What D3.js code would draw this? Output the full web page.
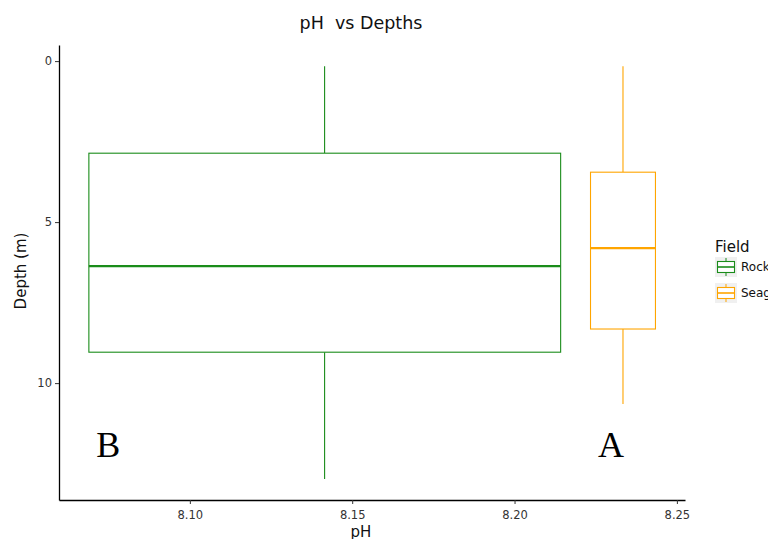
<!DOCTYPE html>
<html>
<head>
<meta charset="utf-8">
<script src="https://cdn.jsdelivr.net/npm/d3@7"></script>
<style>
  html, body { margin: 0; padding: 0; background: #fff; overflow: hidden; }
  svg { display: block; font-family: "DejaVu Sans", sans-serif; }
  .letter { font-family: "Liberation Serif", "DejaVu Serif", serif; }
</style>
</head>
<body>
<svg id="chart" width="768" height="539"></svg>
<script>
// Box statistics per field (depth in metres, positioned along pH)
const fields    = ["Rocky Reef", "Seagrass"];
const colors    = ["#1a8c1a", "#ffa500"];
const phLeft    = [8.0689, 8.2234];
const phRight   = [8.2142, 8.2434];
const phCenter  = [8.1415, 8.2334];
const whiskLow  = [0.16, 0.16];
const q1        = [2.86, 3.45];
const medians   = [6.37, 5.81];
const q3        = [9.04, 8.32];
const whiskHigh = [12.98, 10.65];
const letters   = ["B", "A"];
const letterPH  = [8.0749, 8.2297];
const letterDepth = 12.3;

const xTicks = [8.10, 8.15, 8.20, 8.25];
const yTicks = [0, 5, 10];

const svg = d3.select("#chart");
const plot = { left: 59, right: 685, top: 45, bottom: 500 };

const x = d3.scaleLinear().domain([8.0597, 8.2525]).range([plot.left, plot.right]);
const y = d3.scaleLinear().domain([-0.5, 13.63]).range([plot.top, plot.bottom]);

// Title
svg.append("text")
  .attr("x", 361).attr("y", 29)
  .attr("text-anchor", "middle")
  .attr("font-size", 17.5)
  .attr("fill", "#111")
  .style("white-space", "pre")
  .text("pH  vs Depths");

// Boxes
fields.forEach((f, i) => {
  const g = svg.append("g").attr("stroke", colors[i]).attr("fill", "none");
  g.append("line")
    .attr("x1", x(phCenter[i])).attr("x2", x(phCenter[i]))
    .attr("y1", y(whiskLow[i])).attr("y2", y(q1[i]))
    .attr("stroke-width", 1.1);
  g.append("line")
    .attr("x1", x(phCenter[i])).attr("x2", x(phCenter[i]))
    .attr("y1", y(q3[i])).attr("y2", y(whiskHigh[i]))
    .attr("stroke-width", 1.1);
  g.append("rect")
    .attr("x", x(phLeft[i])).attr("y", y(q1[i]))
    .attr("width", x(phRight[i]) - x(phLeft[i]))
    .attr("height", y(q3[i]) - y(q1[i]))
    .attr("fill", "#fff")
    .attr("stroke-width", 1.1);
  g.append("line")
    .attr("x1", x(phLeft[i])).attr("x2", x(phRight[i]))
    .attr("y1", y(medians[i])).attr("y2", y(medians[i]))
    .attr("stroke-width", 2.2);
});

// Group letters
letters.forEach((t, i) => {
  svg.append("text")
    .attr("class", "letter")
    .attr("x", x(letterPH[i])).attr("y", y(letterDepth))
    .attr("text-anchor", "middle")
    .attr("font-size", 36)
    .attr("fill", "#000")
    .text(t);
});

// Axes
const xAxis = svg.append("g")
  .attr("transform", `translate(0,${plot.bottom})`)
  .call(d3.axisBottom(x).tickValues(xTicks).tickFormat(d3.format(".2f")).tickSize(4).tickSizeOuter(0));
const yAxis = svg.append("g")
  .attr("transform", `translate(${plot.left},0)`)
  .call(d3.axisLeft(y).tickValues(yTicks).tickSize(4).tickSizeOuter(0));
[xAxis, yAxis].forEach(a => {
  a.select(".domain").attr("stroke", "#000").attr("stroke-width", 1.3);
  a.selectAll(".tick line").attr("stroke", "#333");
  a.selectAll(".tick text").attr("font-size", 11.5).attr("fill", "#333")
    .attr("font-family", "'DejaVu Sans', sans-serif");
});
xAxis.selectAll(".tick text").attr("dy", "1.05em");

// Axis titles
svg.append("text")
  .attr("x", 361).attr("y", 537)
  .attr("text-anchor", "middle")
  .attr("font-size", 15).attr("fill", "#111")
  .text("pH");
svg.append("text")
  .attr("transform", "translate(26,271) rotate(-90)")
  .attr("text-anchor", "middle")
  .attr("font-size", 15).attr("fill", "#111")
  .text("Depth (m)");

// Legend
const legend = svg.append("g").attr("transform", "translate(715,0)");
legend.append("text")
  .attr("x", 0).attr("y", 252)
  .attr("font-size", 15).attr("fill", "#111")
  .text("Field");
fields.forEach((f, i) => {
  const top = 257 + i * 26;
  const k = legend.append("g");
  k.append("rect").attr("x", 0).attr("y", top).attr("width", 22).attr("height", 20).attr("fill", "#f0f0f0");
  k.append("line").attr("x1", 11).attr("x2", 11).attr("y1", top + 1).attr("y2", top + 19)
    .attr("stroke", colors[i]).attr("stroke-width", 1);
  k.append("rect").attr("x", 2.5).attr("y", top + 4.5).attr("width", 17).attr("height", 11)
    .attr("fill", "#fff").attr("stroke", colors[i]).attr("stroke-width", 1.1);
  k.append("line").attr("x1", 2.5).attr("x2", 19.5).attr("y1", top + 10).attr("y2", top + 10)
    .attr("stroke", colors[i]).attr("stroke-width", 1.6);
  legend.append("text")
    .attr("x", 26).attr("y", top + 14)
    .attr("font-size", 12).attr("fill", "#111")
    .text(f);
});
</script>
</body>
</html>
